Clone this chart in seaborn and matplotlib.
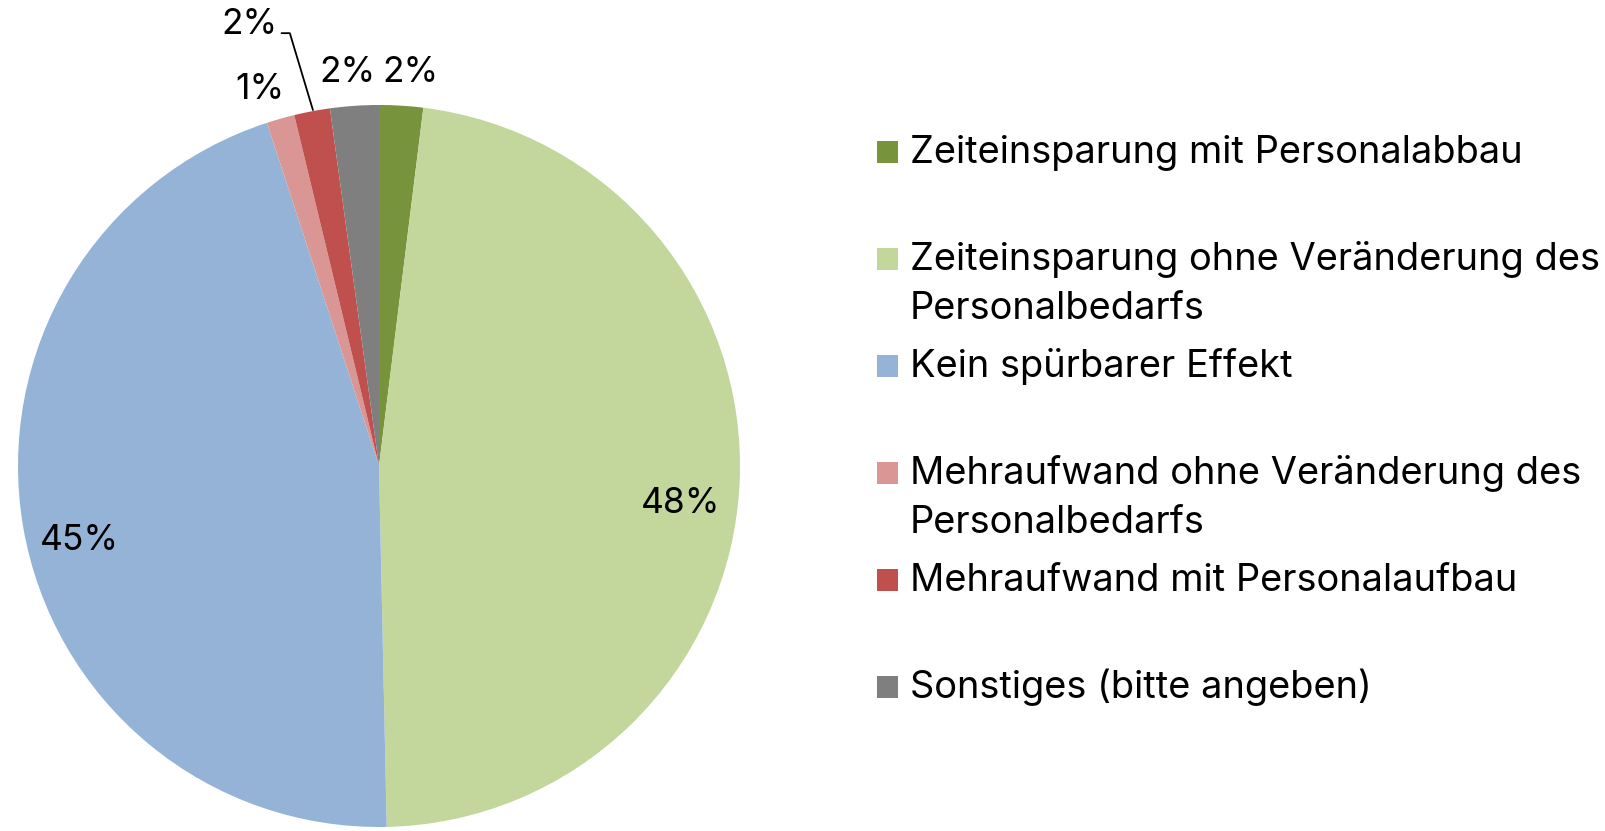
import matplotlib
matplotlib.use("Agg")
import matplotlib.pyplot as plt
from matplotlib.patches import Rectangle
import seaborn as sns

sns.set_theme(style="white")
plt.rcParams["font.family"] = ["Inter", "DejaVu Sans"]

# Survey answer shares (percent)
categories = [
    "Zeiteinsparung mit Personalabbau",
    "Zeiteinsparung ohne Veränderung des\nPersonalbedarfs",
    "Kein spürbarer Effekt",
    "Mehraufwand ohne Veränderung des\nPersonalbedarfs",
    "Mehraufwand mit Personalaufbau",
    "Sonstiges (bitte angeben)",
]
shares = [1.96, 47.68, 45.3, 1.25, 1.6, 2.17]
colors = ["#77933C", "#C3D69B", "#95B3D7", "#D99694", "#C0504D", "#7F7F7F"]

W, H = 1605, 831
fig = plt.figure(figsize=(W / 100, H / 100), dpi=100)
ax = fig.add_axes([0, 0, 1, 1])

# pie centre at pixel (379, 466), radius 361 px
cx, cy, R = 379, 466, 361

wedges, _ = ax.pie(shares, colors=colors, startangle=90, counterclock=False,
                   radius=1.0, center=(0, 0), frame=True,
                   wedgeprops=dict(linewidth=0))
ax.set_xlim(-cx / R, (W - cx) / R)
ax.set_ylim((cy - H) / R, cy / R)
ax.set_aspect("equal")
ax.axis("off")

pct = [f"{round(v):d}%" for v in shares]
lab_fs = 25.5
# label positions in pie units
label_pos = [(0.086, 1.089), (0.836, -0.105), (-0.83, -0.205),
             (-0.33, 1.044), (-0.36, 1.224), (-0.086, 1.089)]
for txt, (x, y) in zip(pct, label_pos):
    ax.text(x, y, txt, ha="center", va="center", fontsize=lab_fs, color="black")

# leader line for the small red slice
ax.plot([-0.27, -0.247, -0.183], [1.199, 1.199, 0.986], color="black", lw=1.3)

# legend drawn entry by entry
leg_fs = 27.4
x_box, box_w, box_h = 877, 21, 22
x_text = 910
base0, step, line_h = 163, 107, 49
for i, (lab, col) in enumerate(zip(categories, colors)):
    base = base0 + i * step
    fig.patches.append(Rectangle((x_box / W, 1 - base / H), box_w / W, box_h / H,
                                 transform=fig.transFigure, facecolor=col,
                                 edgecolor="none"))
    for k, line in enumerate(lab.split("\n")):
        fig.text(x_text / W, 1 - (base + k * line_h) / H, line,
                 ha="left", va="baseline", fontsize=leg_fs, color="black")

fig.savefig("out.png", dpi=100)
